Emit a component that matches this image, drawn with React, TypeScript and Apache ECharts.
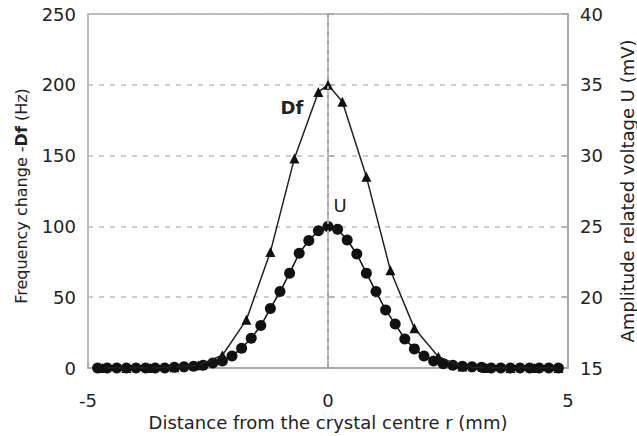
import React, { useEffect, useRef } from "react";
import * as echarts from "echarts";

const dfX = [-4.7, -4.2, -3.7, -3.2, -2.7, -2.2, -1.7, -1.2, -0.7, -0.2, 0, 0.3, 0.8, 1.3, 1.8, 2.3, 2.8, 3.3, 3.8, 4.3, 4.8];
const dfY = [0, 0, 0, 0.5, 2, 9, 34, 82, 148, 195, 200, 188, 135, 69, 28, 8, 1, 0, 0, 0, 0];

const uX = [
  -4.8, -4.6, -4.4, -4.2, -4.0, -3.8, -3.6, -3.4, -3.2, -3.0, -2.8, -2.6, -2.4, -2.2, -2.0, -1.8, -1.6,
  -1.4, -1.2, -1.0, -0.8, -0.6, -0.4, -0.2, 0, 0.2, 0.4, 0.6, 0.8, 1.0, 1.2, 1.4, 1.6, 1.8, 2.0, 2.2,
  2.4, 2.6, 2.8, 3.0, 3.2, 3.4, 3.6, 3.8, 4.0, 4.2, 4.4, 4.6, 4.8,
];
const uY = [
  15.0, 15.0, 15.0, 15.0, 15.0, 15.0, 15.0, 15.0, 15.05, 15.08, 15.12, 15.2, 15.35, 15.5, 15.85, 16.4, 17.1,
  18.0, 19.2, 20.4, 21.7, 23.1, 24.0, 24.7, 25.0, 24.8, 24.04, 23.05, 21.7, 20.4, 19.1, 18.1, 17.05, 16.35, 15.85, 15.5,
  15.3, 15.2, 15.12, 15.08, 15.05, 15.0, 15.0, 15.0, 15.0, 15.0, 15.0, 15.0, 15.0,
];

const xTicks = { min: -5, max: 5, interval: 5 };
const leftTicks = { min: 0, max: 250, interval: 50 };
const rightTicks = { min: 15, max: 40, interval: 5 };

const dfLabelPos = [-0.75, 184];
const uLabelPos = [0.25, 115];

export default function App() {
  const ref = useRef<HTMLDivElement>(null);
  useEffect(() => {
    const chart = echarts.init(ref.current!, undefined, { renderer: "svg" });
    const axisGray = "#a6a6a6";
    const textColor = "#222";
    const font = "'DejaVu Sans', sans-serif";
    const fs = 18;
    const leftNameFs = 16;
    chart.setOption({
      animation: false,
      backgroundColor: "#fff",
      textStyle: { fontFamily: font },
      grid: {
        left: 88,
        right: 69,
        top: 14,
        bottom: 68,
        show: true,
        borderColor: axisGray,
        borderWidth: 1.5,
        outerBoundsMode: "none",
        containLabel: false,
      },
      xAxis: {
        type: "value",
        ...xTicks,
        name: "Distance from the crystal centre r (mm)",
        nameLocation: "middle",
        nameGap: 41,
        nameTextStyle: { fontSize: fs, color: textColor, fontFamily: font },
        axisLine: { show: true, onZero: false, lineStyle: { color: axisGray, width: 1.5 } },
        axisTick: { show: true, inside: true, length: 6, lineStyle: { color: axisGray, width: 1.5 } },
        axisLabel: { fontSize: fs, color: textColor, margin: 23, fontFamily: font },
        splitLine: { show: false },
      },
      yAxis: [
        {
          type: "value",
          position: "left",
          ...leftTicks,
          name: "Frequency change -{b|Df} (Hz)",
          nameLocation: "middle",
          nameGap: 59,
          nameTextStyle: {
            fontSize: leftNameFs,
            color: textColor,
            fontFamily: font,
            padding: [0, 10, 0, 0],
            rich: { b: { fontSize: leftNameFs, fontWeight: "bold", color: textColor, fontFamily: font } },
          },
          axisLine: { show: true, lineStyle: { color: axisGray, width: 1.5 } },
          axisTick: { show: true, inside: true, length: 6, lineStyle: { color: axisGray, width: 1.5 } },
          axisLabel: { fontSize: fs, color: textColor, margin: 12, fontFamily: font },
          splitLine: { show: true, lineStyle: { color: "#bdbdbd", type: [5, 6], width: 1.5 } },
        },
        {
          type: "value",
          position: "right",
          ...rightTicks,
          name: "Amplitude related voltage U (mV)",
          nameLocation: "middle",
          nameGap: 50,
          nameRotate: 90,
          nameTextStyle: { fontSize: fs, color: textColor, fontFamily: font },
          axisLine: { show: true, lineStyle: { color: axisGray, width: 1.5 } },
          axisTick: { show: true, inside: true, length: 6, lineStyle: { color: axisGray, width: 1.5 } },
          axisLabel: { fontSize: fs, color: textColor, margin: 12, fontFamily: font },
          splitLine: { show: false },
        },
      ],
      series: [
        {
          name: "U",
          type: "line",
          yAxisIndex: 1,
          data: uX.map((x, i) => [x, uY[i]]),
          symbol: "circle",
          symbolSize: 11,
          itemStyle: { color: "#111" },
          lineStyle: { color: "#111", width: 1.5 },
          z: 3,
        },
        {
          name: "Df",
          type: "line",
          yAxisIndex: 0,
          data: dfX.map((x, i) => [x, dfY[i]]),
          symbol: "triangle",
          symbolSize: 10,
          itemStyle: { color: "#111" },
          lineStyle: { color: "#222", width: 1.5 },
          z: 4,
          markLine: {
            silent: true,
            symbol: "none",
            label: { show: false },
            lineStyle: { color: "#a0a0a0", type: [3, 6], width: 2 },
            data: [{ xAxis: 0 }],
          },
          markPoint: {
            symbol: "circle",
            symbolSize: 0,
            label: {
              show: true,
              fontFamily: font,
              color: "#222",
              rich: {
                b: { fontSize: fs, fontWeight: "bold", color: "#222", fontFamily: font },
                n: { fontSize: fs, color: "#222", fontFamily: font },
              },
            },
            data: [
              { coord: dfLabelPos, value: "Df", label: { formatter: "{b|Df}" } },
              { coord: uLabelPos, value: "U", label: { formatter: "{n|U}" } },
            ],
          },
        },
      ],
    });
    return () => chart.dispose();
  }, []);
  return <div ref={ref} style={{ width: 637, height: 436, position: "absolute", left: 0, top: 0 }} />;
}
